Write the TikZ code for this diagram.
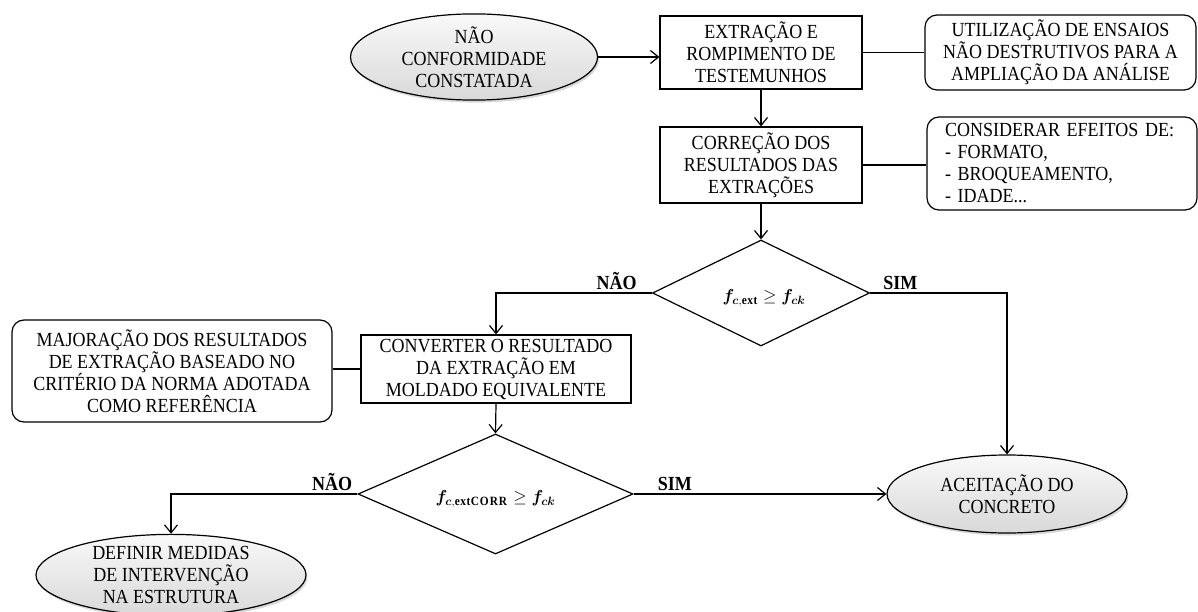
\documentclass[tikz,border=0pt]{standalone}
\usepackage{bm}
\usepackage{fontspec}
\setmainfont{Liberation Serif}[FakeStretch=0.9]
\usetikzlibrary{shapes.geometric,arrows.meta,shadows}

\begin{document}
\begin{tikzpicture}[x=1pt,y=-1pt,
  every node/.style={font=\fontsize{20}{22}\selectfont},
  box/.style={draw, line width=1.2pt, rectangle, align=center, inner sep=0pt},
  note/.style={box, rounded corners=12pt},
  term/.style={ellipse, draw, line width=1.2pt, shading=axis,
    top color=gray!5, bottom color=gray!30,
    drop shadow={opacity=0.3, shadow xshift=1.5pt, shadow yshift=-2.5pt},
    align=center, inner sep=0pt},
  test/.style={diamond, draw, line width=1.2pt, fill=white, inner sep=0pt},
  cond/.style={font=\fontsize{18}{20}\selectfont, inner sep=0pt},
  flow/.style={line width=1.2pt, -{Straight Barb[length=8pt,width=13pt,line width=1.2pt]}},
  link/.style={line width=1.2pt},
  lbl/.style={font=\fontsize{20}{22}\selectfont\bfseries, inner sep=0pt}]
\useasboundingbox (0,0) rectangle (1198,612);

% start and end points
\node[term, minimum width=247pt, minimum height=77pt] (start) at (474,57)
  {NÃO\\CONFORMIDADE\\CONSTATADA};
\node[term, minimum width=240pt, minimum height=78pt] (accept) at (1007,494)
  {ACEITAÇÃO DO\\CONCRETO};
\node[term, minimum width=270pt, minimum height=78pt] (repair) at (171,575)
  {DEFINIR MEDIDAS\\DE INTERVENÇÃO\\NA ESTRUTURA};

% process steps
\node[box, minimum width=202pt, minimum height=73pt] (extract) at (761,52.5)
  {EXTRAÇÃO E\\ROMPIMENTO DE\\TESTEMUNHOS};
\node[box, minimum width=202pt, minimum height=76pt] (correct) at (761,165)
  {CORREÇÃO DOS\\RESULTADOS DAS\\EXTRAÇÕES};
\node[box, minimum width=270pt, minimum height=68pt] (convert) at (496,369)
  {CONVERTER O RESULTADO\\DA EXTRAÇÃO EM\\MOLDADO EQUIVALENTE};

% side notes
\node[note, minimum width=271pt, minimum height=75pt] (ndt) at (1060.5,52.5)
  {UTILIZAÇÃO DE ENSAIOS\\NÃO DESTRUTIVOS PARA A\\AMPLIAÇÃO DA ANÁLISE};
\node[note, minimum width=270pt, minimum height=93pt, text width=234pt, align=left]
  (effects) at (1062,163.5)
  {CONSIDERAR EFEITOS DE:\\- FORMATO,\\- BROQUEAMENTO,\\- IDADE...};
\node[note, minimum width=320pt, minimum height=102pt] (norm) at (172,371)
  {MAJORAÇÃO DOS RESULTADOS\\DE EXTRAÇÃO BASEADO NO\\CRITÉRIO DA NORMA ADOTADA\\COMO REFERÊNCIA};

% decisions: the outline first, the condition set on top of it
\node[test, minimum width=217pt, minimum height=106pt] (check1) at (761,293) {};
\node[cond] (cond1) at ([xshift=3pt,yshift=-5pt]check1.center)
  {$\bm{f}_{\bm{c},\mathbf{ext}}\geq\bm{f}_{\bm{ck}}$};
\node[test, minimum width=275pt, minimum height=120pt] (check2) at (495.5,494) {};
\node[cond] (cond2) at ([xshift=0pt,yshift=-5pt]check2.center)
  {$\bm{f}_{\bm{c},\mathbf{extCORR}}\geq\bm{f}_{\bm{ck}}$};

% main flow
\draw[flow] (start.east) -- (extract.west |- start.east);
\draw[link] (extract.east) -- (ndt.west |- extract.east);
\draw[flow] (extract.south) -- (correct.north);
\draw[link] (correct.east) -- (effects.west |- correct.east);
\draw[flow] (correct.south) -- (check1.north);
\draw[flow] (check1.west) -| (convert.north);
\draw[flow] (check1.east) -| (accept.north);
\draw[link] (convert.west) -- (norm.east |- convert.west);
\draw[flow] (convert.south) -- (check2.north);
\draw[flow] (check2.east) -- (accept.west);
\draw[flow] (check2.west) -| (repair.north);

% branch labels
\node[lbl, anchor=base east] (no1) at ([xshift=-15pt,yshift=4pt]check1.west) {NÃO};
\node[lbl, anchor=base west] (yes1) at ([xshift=13pt,yshift=4pt]check1.east) {SIM};
\node[lbl, anchor=base east] (no2) at ([xshift=-5pt,yshift=4pt]check2.west) {NÃO};
\node[lbl, anchor=base west] (yes2) at ([xshift=24pt,yshift=4pt]check2.east) {SIM};
\end{tikzpicture}
\end{document}
